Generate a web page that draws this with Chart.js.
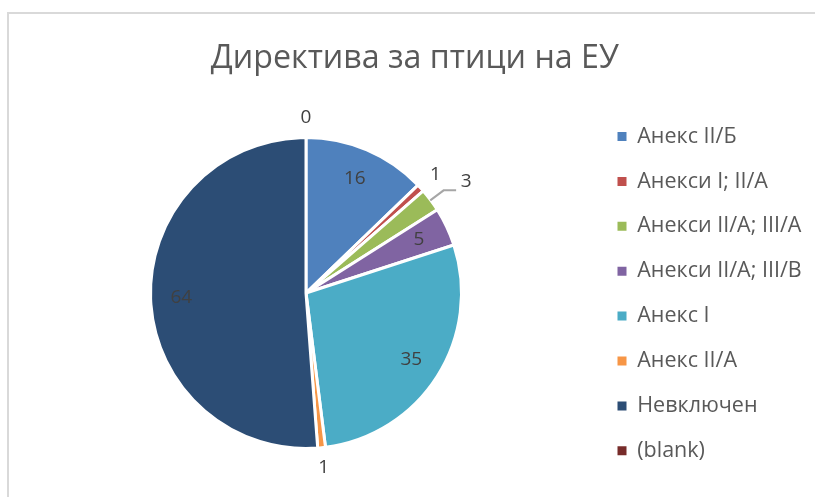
<!DOCTYPE html>
<html><head><meta charset="utf-8">
<script src="https://cdn.jsdelivr.net/npm/chart.js@4.4.0/dist/chart.umd.min.js"></script>
<style>
html,body{margin:0;padding:0;background:#fff;}
#wrap{position:relative;width:815px;height:497px;overflow:hidden;}
#frame{position:absolute;left:7px;top:12px;width:900px;height:600px;border-left:2px solid #d9d9d9;border-top:2px solid #d9d9d9;}
canvas{position:absolute;left:0;top:0;}
</style></head><body>
<div id="wrap"><div id="frame"></div><canvas id="c" width="815" height="497"></canvas></div>
<script>
const chartTitle = 'Директива за птици на ЕУ';
const categories = ['Анекс II/Б', 'Анекси I; II/A', 'Анекси II/A; III/A', 'Анекси II/A; III/B', 'Анекс I', 'Анекс II/A', 'Невключен', '(blank)'];
const values = [16, 1, 3, 5, 35, 1, 64, 0];
const colors = ['#4F81BD', '#C0504D', '#9BBB59', '#8064A2', '#4BACC6', '#F79646', '#2C4D75', '#772C2A'];

const FONT = "'Open Sans', 'Noto Sans', sans-serif";
const legendSize = 21.5, legendPad = 23.4, boxSize = 9;
const legendLeft = 594.1;
const pieCenterX = 306;

// measure the widest legend text to place the legend box
const mctx = document.createElement('canvas').getContext('2d');
mctx.font = legendSize + 'px ' + FONT;
const textW = Math.max(...categories.map(t => mctx.measureText(t).width));
const natural = legendPad + boxSize + legendSize / 2 + textW + 10;
const legendWidth = 815 - legendLeft;
const padRight = Math.max(0, legendWidth - natural);
const padLeft = 2 * pieCenterX - legendLeft;

const sliceLabels = {
  id: 'sliceLabels',
  afterDatasetsDraw(chart) {
    const ctx = chart.ctx;
    const meta = chart.getDatasetMeta(0);
    const data = chart.data.datasets[0].data;
    const total = data.reduce((a, b) => a + b, 0);
    ctx.save();
    ctx.font = '19px ' + FONT;
    ctx.fillStyle = '#404040';
    ctx.textAlign = 'center';
    ctx.textBaseline = 'middle';
    let prevOut = null;
    meta.data.forEach((arc, i) => {
      const p = arc.getProps(['x', 'y', 'startAngle', 'endAngle', 'outerRadius'], true);
      const r = p.outerRadius - 1.5;
      const mid = (p.startAngle + p.endAngle) / 2;
      const inside = data[i] / total >= 0.03;
      let d = inside ? 0.81 * r : 1.14 * r;
      let lx = p.x + Math.cos(mid) * d, ly = p.y + Math.sin(mid) * d;
      if (!inside && prevOut && Math.hypot(lx - prevOut.x, ly - prevOut.y) < 24) {
        const a2 = mid + 2 * Math.PI / 180;
        lx = p.x + Math.cos(a2) * 1.265 * r;
        ly = p.y + Math.sin(a2) * 1.265 * r;
        const sx = p.x + Math.cos(mid) * (r + 1), sy = p.y + Math.sin(mid) * (r + 1);
        const ex = p.x + Math.cos(mid) * 1.115 * r, ey = p.y + Math.sin(mid) * 1.115 * r;
        ctx.save();
        ctx.strokeStyle = '#a6a6a6';
        ctx.lineWidth = 2;
        ctx.beginPath();
        ctx.moveTo(sx, sy);
        ctx.lineTo(ex, ey);
        ctx.lineTo(lx - 10, ey);
        ctx.stroke();
        ctx.restore();
      }
      if (!inside) prevOut = {x: lx, y: ly};
      ctx.fillText(String(data[i]), lx, ly);
    });
    ctx.restore();
  }
};

new Chart(document.getElementById('c'), {
  type: 'pie',
  data: {
    labels: categories,
    datasets: [{
      data: values,
      backgroundColor: colors,
      borderColor: '#ffffff',
      borderWidth: 3,
      radius: 155.5
    }]
  },
  options: {
    responsive: false,
    animation: false,
    devicePixelRatio: 1,
    layout: { padding: { left: padLeft, right: padRight, top: 0, bottom: 0 } },
    plugins: {
      tooltip: { enabled: false },
      title: {
        display: true,
        text: chartTitle,
        color: '#595959',
        font: { family: FONT, size: 32.2, weight: 'normal' },
        padding: { top: 39.7, bottom: 10.7 }
      },
      legend: {
        position: 'right',
        align: 'start',
        maxWidth: legendWidth,
        title: { display: true, text: '', padding: { top: 87.95, bottom: 0 } },
        labels: {
          color: '#595959',
          font: { family: FONT, size: legendSize },
          boxWidth: boxSize,
          boxHeight: boxSize,
          padding: legendPad,
          generateLabels(chart) {
            const items = Chart.overrides.pie.plugins.legend.labels.generateLabels(chart);
            items.forEach(it => { it.lineWidth = 0; it.strokeStyle = 'rgba(0,0,0,0)'; });
            return items;
          }
        }
      }
    }
  },
  plugins: [sliceLabels]
});
</script>
</body></html>
